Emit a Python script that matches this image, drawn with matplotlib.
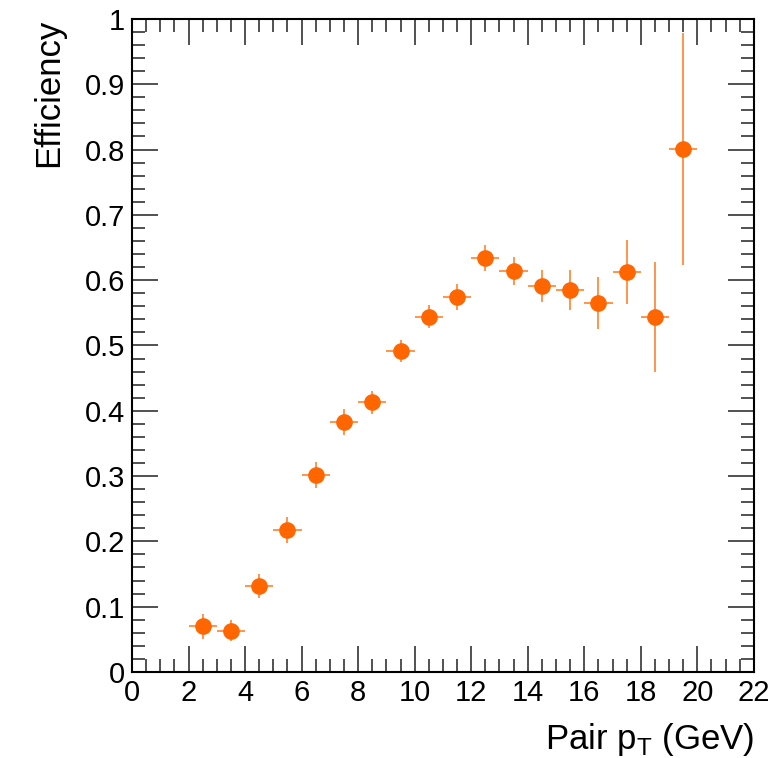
import numpy as np
import matplotlib
matplotlib.use("Agg")
import matplotlib.pyplot as plt
from matplotlib.ticker import MultipleLocator, FuncFormatter

plt.rcParams['font.family'] = ['Liberation Sans', 'DejaVu Sans']

# pair pT bin centres (GeV) and efficiencies
pt = [2.5, 3.5, 4.5, 5.5, 6.5, 7.5, 8.5, 9.5, 10.5, 11.5,
      12.5, 13.5, 14.5, 15.5, 16.5, 17.5, 18.5, 19.5]
pt_err = [0.5] * 18
eff = [0.070, 0.063, 0.132, 0.217, 0.302, 0.383, 0.413, 0.492, 0.544, 0.574,
       0.634, 0.614, 0.591, 0.585, 0.565, 0.613, 0.544, 0.801]
eff_err = [0.019, 0.016, 0.018, 0.020, 0.020, 0.020, 0.018, 0.017, 0.018, 0.020,
           0.020, 0.022, 0.025, 0.030, 0.040, 0.049, 0.084, 0.178]

fig = plt.figure(figsize=(7.74, 7.58), dpi=100)
ax = fig.add_axes([0.1705, 0.1135, 0.8035, 0.8615])

ax.errorbar(pt, eff, xerr=pt_err, yerr=eff_err, fmt='o', color='#ff6600',
            ecolor='#ff8c40', elinewidth=1.3, markersize=11, capsize=0)

ax.set_xlim(0, 22)
ax.set_ylim(0, 1)
ax.xaxis.set_major_locator(MultipleLocator(2))
ax.xaxis.set_minor_locator(MultipleLocator(0.5))
ax.yaxis.set_major_locator(MultipleLocator(0.1))
ax.yaxis.set_minor_locator(MultipleLocator(0.02))
ax.yaxis.set_major_formatter(FuncFormatter(lambda v, p: '%g' % round(v, 2)))
ax.tick_params(which='both', direction='in', top=True, right=True, width=1.2,
               color='#333333', labelsize=21)
ax.tick_params(which='major', length=19, pad=5)
ax.tick_params(which='minor', length=9.5)
for s in ax.spines.values():
    s.set_linewidth(1.5)

ax.set_xlabel('Pair p$_{\\mathregular{T}}$ (GeV)', fontsize=25, loc='right', labelpad=10)
ax.set_ylabel('Efficiency', fontsize=25, loc='top', labelpad=14)

fig.savefig('out.png', dpi=100)
